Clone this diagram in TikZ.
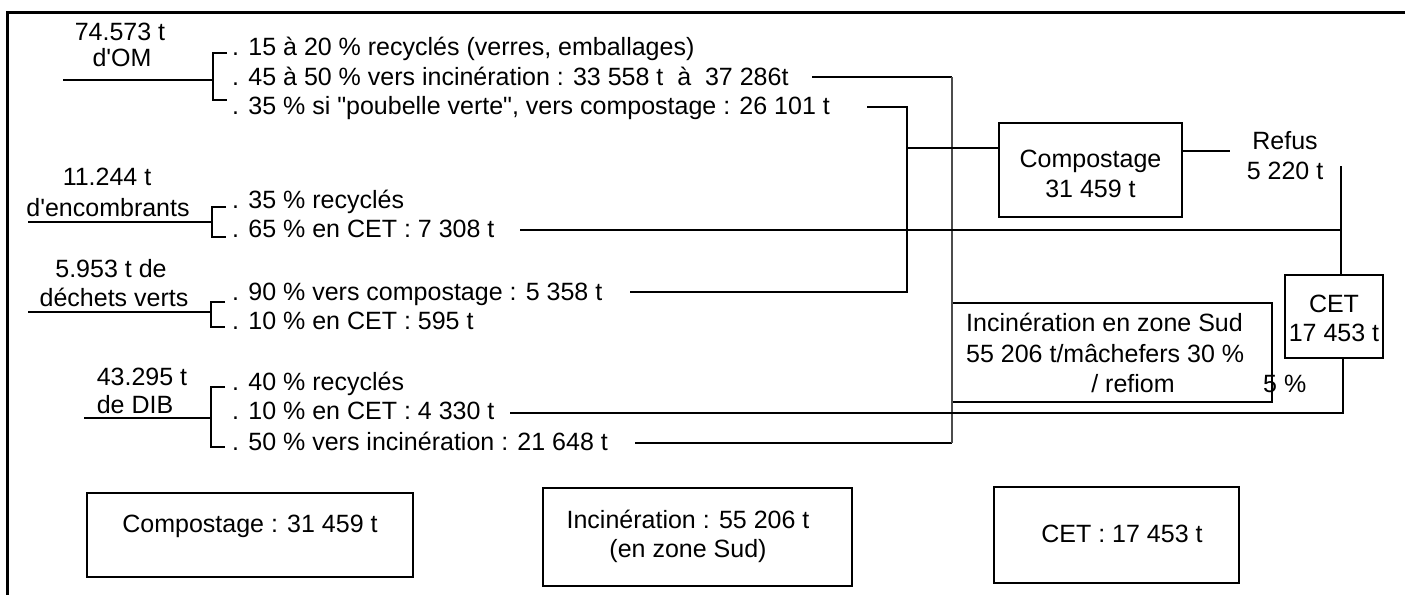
\documentclass[tikz,border=0pt]{standalone}
\usepackage{fontspec}
\setmainfont{Liberation Sans}
\begin{document}
\begin{tikzpicture}[x=1pt,y=-1pt,
  txt/.style={font=\fontsize{25}{30}\selectfont, inner sep=0pt, anchor=base west},
  ctxt/.style={font=\fontsize{25}{30}\selectfont, inner sep=0pt, anchor=base},
  ln/.style={line width=2pt},
  thin/.style={line width=1.3pt},
  incl/.style={line width=2.6pt, black!70},
  boxnode/.style={draw, line width=2pt, inner sep=0pt}
]
\useasboundingbox (0,0) rectangle (1405,595);
% frame
\draw[line width=3pt] (1405,12) -- (7,12) -- (7,595);

% ---------- OM ----------
\node[ctxt] (om1) at (120,40) {74.573 t};
\node[ctxt] (om2) at (122,66) {d\textquotesingle OM};
\node[txt] (oma) at (232,55) {. 15 à 20 \% recyclés (verres, emballages)};
\node[txt] (omb) at (232,85) {. 45 à 50 \% vers incinération : 33 558 t\ \ à\ \ 37 286t};
\node[txt] (omc) at (232,114) {. 35 \% si \textquotedbl poubelle verte\textquotedbl, vers compostage : 26 101 t};
\coordinate (omL) at (63,80);
\coordinate (omM) at (213,80);
\draw[ln] (omL) -- (omM);
\draw[ln] (227,53) -- (213,53) -- (213,100) -- (227,100);

% ---------- encombrants ----------
\node[ctxt] (en1) at (107,185) {11.244 t};
\node[ctxt] (en2) at (108,216) {d\textquotesingle encombrants};
\node[txt] (ena) at (232,208) {. 35 \% recyclés};
\node[txt] (enb) at (232,237) {. 65 \% en CET : 7 308 t};
\coordinate (enL) at (28,222);
\coordinate (enM) at (212,222);
\draw[ln] (enL) -- (enM);
\draw[ln] (226,207) -- (212,207) -- (212,237) -- (226,237);

% ---------- dechets verts ----------
\node[ctxt] (dv1) at (111,277) {5.953 t de};
\node[ctxt] (dv2) at (114,306) {déchets verts};
\node[txt] (dva) at (232,300) {. 90 \% vers compostage : 5 358 t};
\node[txt] (dvb) at (232,329) {. 10 \% en CET : 595 t};
\coordinate (dvL) at (28,312);
\coordinate (dvM) at (211,312);
\draw[ln] (dvL) -- (dvM);
\draw[ln] (225,302) -- (211,302) -- (211,327) -- (225,327);

% ---------- DIB ----------
\node[ctxt] (di1) at (142,385) {43.295 t};
\node[ctxt] (di2) at (135,413) {de DIB};
\node[txt] (dia) at (232,390) {. 40 \% recyclés};
\node[txt] (dib) at (232,419) {. 10 \% en CET : 4 330 t};
\node[txt] (dic) at (232,450) {. 50 \% vers incinération : 21 648 t};
\coordinate (diL) at (84,418);
\coordinate (diM) at (211,418);
\draw[ln] (diL) -- (diM);
\draw[ln] (225,387) -- (211,387) -- (211,447) -- (225,447);

% ---------- process boxes ----------
\node[boxnode, minimum width=183pt, minimum height=94pt] (comp) at (1090.5,170) {};
\node[ctxt] (compt1) at (1090.5,167) {Compostage};
\node[ctxt] (compt2) at (1090.5,197) {31 459 t};

\node[ctxt] (ref1) at (1285,149) {Refus};
\node[ctxt] (ref2) at (1285,179) {5 220 t};

\node[boxnode, minimum width=98pt, minimum height=83pt] (cet) at (1334,316.5) {};
\node[ctxt] (cett1) at (1334,312) {CET};
\node[ctxt] (cett2) at (1334,341) {17 453 t};

\draw[thin] (952,303) -- (1272,303) -- (1272,402) -- (952,402);
\node[txt] (inz1) at (966,331) {Incinération en zone Sud};
\node[txt] (inz2) at (966,362) {55 206 t/mâchefers 30 \%};
\node[ctxt] (inz3) at (1133,392) {/ refiom};
\node[txt] (inz4) at (1263,392) {5 \%};

% ---------- flows ----------
% incineration
\coordinate (i1) at (812,77);
\coordinate (i2) at (952,77);
\coordinate (i3) at (952,443);
\coordinate (i4) at (635,443);
\draw[ln] (i1) -- (i2);
\draw[ln] (i4) -- (i3);
\draw[incl] (i2) -- (i3);
% compostage
\coordinate (c1) at (867,107);
\coordinate (c2) at (907,107);
\coordinate (c3) at (907,292);
\coordinate (c4) at (630,292);
\coordinate (cj) at (907,148);
\draw[ln] (c1) -- (c2) -- (c3) -- (c4);
\draw[ln] (cj) -- (comp.west |- cj);
% refus
\coordinate (r0) at (1182,151);
\coordinate (r1) at (1230,151);
\draw[ln] (comp.east |- r0) -- (r1);
\coordinate (rv) at (1341,166);
\draw[ln] (rv) -- (rv |- cet.north);
% CET inputs
\coordinate (e1) at (520,230);
\coordinate (e2) at (1341,230);
\draw[ln] (e1) -- (e2);
\coordinate (d1) at (510,413);
\coordinate (d2) at (1343,413);
\draw[ln] (d1) -- (d2) -- (d2 |- cet.south);

% ---------- summary boxes ----------
\node[boxnode, minimum width=326pt, minimum height=84pt] (sc) at (250,535) {};
\node[ctxt] (sct) at (250,532) {Compostage : 31 459 t};
\node[boxnode, minimum width=309pt, minimum height=98pt] (si) at (697.5,537) {};
\node[ctxt] (sit1) at (688,528) {Incinération : 55 206 t};
\node[ctxt] (sit2) at (688,557) {(en zone Sud)};
\node[boxnode, minimum width=245pt, minimum height=96pt] (se) at (1116.5,535) {};
\node[ctxt] (set) at (1122,542) {CET : 17 453 t};
\end{tikzpicture}
\end{document}
